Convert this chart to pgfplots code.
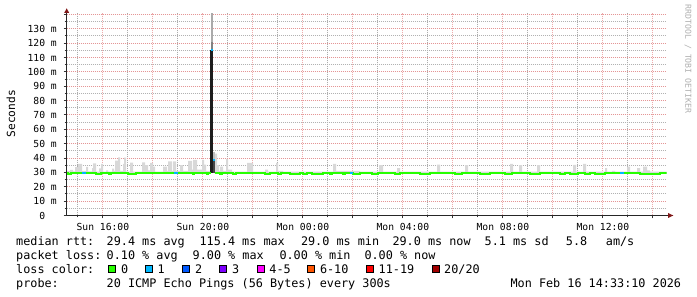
\documentclass[border=0pt]{standalone}
\usepackage{pgfplots}
\pgfplotsset{compat=1.18}
\usepackage{fontspec}
\setmainfont{DejaVu Sans Mono}
\definecolor{lc0}{HTML}{26FF00}
\definecolor{lc1}{HTML}{00B8FF}
\definecolor{lc2}{HTML}{0059FF}
\definecolor{lc3}{HTML}{7E00FF}
\definecolor{lc4}{HTML}{FF00FF}
\definecolor{lc6}{HTML}{FF5500}
\definecolor{lc11}{HTML}{FF0000}
\definecolor{lc20}{HTML}{A10000}
\definecolor{mgridx}{RGB}{238,172,172}
\definecolor{mgridy}{RGB}{228,150,150}
\definecolor{mingridx}{RGB}{172,172,172}
\definecolor{mingridy}{RGB}{178,178,178}
\definecolor{smoke}{RGB}{216,216,216}
\definecolor{arrowc}{RGB}{128,24,24}
\begin{document}
\begin{tikzpicture}[x=1pt,y=1pt]
\useasboundingbox (0,0) rectangle (697,297);
\begin{axis}[
  at={(66.7pt,81.5pt)}, anchor=south west,
  scale only axis, width=600pt, height=202.5pt,
  xmin=14.5528, xmax=38.5528, ymin=0, ymax=141,
  axis line style={draw=none},
  xtick={16,18,...,38},
  xticklabels={Sun 16:00,,Sun 20:00,,Mon 00:00,,Mon 04:00,,Mon 08:00,,Mon 12:00,},
  minor xtick={15,17,...,37},
  ytick={0,10,...,140},
  yticklabels={0\phantom{ m},10 m,20 m,30 m,40 m,50 m,60 m,70 m,80 m,90 m,100 m,110 m,120 m,130 m,},
  minor ytick={5,15,...,135},
  tick pos=left, tick align=outside,
  major tick length=3pt, minor tick length=2pt,
  tick style={black!80, line width=1pt},
  ticklabel style={font=\fontsize{9.7}{11}\selectfont, text=black},
  xticklabel style={anchor=north, inner sep=0pt, yshift=-5pt},
  yticklabel style={anchor=east, inner sep=0pt, xshift=-6.7pt},
]
% grid
\pgfplotsinvokeforeach{15,17,...,37}{\draw[mingridx, dash pattern=on 1pt off 1pt, line width=1pt] (axis cs:#1,0) -- (axis cs:#1,141);}
\pgfplotsinvokeforeach{5,15,...,135}{\draw[mingridy, dash pattern=on 1pt off 1pt, line width=1pt] (axis cs:14.5528,#1) -- (axis cs:38.5528,#1);}
\pgfplotsinvokeforeach{10,20,...,140}{\draw[mgridy, dash pattern=on 1pt off 1pt, line width=1pt] (axis cs:14.5528,#1) -- (axis cs:38.5528,#1);}
\pgfplotsinvokeforeach{16,18,...,38}{\draw[mgridx, dash pattern=on 1pt off 1pt, line width=0.9pt] (axis cs:#1,0) -- (axis cs:#1,141);}
% smoke (light)
\addplot[fill=smoke, draw=none, const plot] coordinates {
(14.553,31) (14.685,31.7) (14.805,30.8) (14.885,33.6) (15.005,35.9) (15.165,31) (15.325,33.8) (15.405,30.8) (15.565,33) (15.605,36.3) (15.725,30.5) (15.845,32.8) (15.925,36) (16.005,30.5) (16.125,31.5) (16.205,30.5) (16.365,32.6) (16.445,31) (16.485,38.2) (16.605,40.5) (16.685,31) (16.805,36) (16.845,40.3) (16.925,30.5) (17.085,36.9) (17.205,30.5) (17.565,37) (17.685,35) (17.805,31.5) (17.885,36.7) (18.005,34) (18.085,30.5) (18.405,34) (18.565,31) (18.605,37.6) (18.765,31) (18.805,37.6) (18.925,31) (19.085,35) (19.205,31) (19.405,38) (19.565,32) (19.605,38.8) (19.765,32) (19.965,38.8) (20.045,35.5) (20.125,31) (20.305,31) (20.305,29) (14.553,29)};
\addplot[fill=smoke, draw=none, const plot] coordinates {
(20.473,43) (20.565,35) (20.645,31) (20.685,34) (20.805,31) (20.925,39.3) (21.005,32) (21.165,30.5) (21.765,36.7) (22.005,30.5) (22.485,32) (22.605,30.5) (22.925,36.7) (23.005,31) (23.205,30.5) (25.205,36) (25.325,31) (26.285,30.5) (27.045,35) (27.205,30.5) (27.765,33) (27.885,30.5) (29.365,35.5) (29.485,30.5) (30.485,35) (30.605,30.5) (32.285,36) (32.405,30.5) (32.645,35) (32.765,30.5) (33.365,35) (33.485,30.5) (34.805,35.2) (34.925,30.5) (35.205,35.9) (35.325,30.5) (36.085,32.9) (36.165,30.5) (36.365,31) (36.485,30.5) (36.965,34) (37.085,30.5) (37.365,33) (37.485,30.5) (37.605,34) (37.765,31.5) (37.885,30.5) (38.553,30.5) (38.553,29) (20.473,29)};
% spike samples
\addplot[fill={rgb,255:red,170;green,170;blue,170}, draw=none] coordinates {(20.305,121) (20.305,141) (20.389,141) (20.389,121)};
\addplot[fill={rgb,255:red,130;green,130;blue,130}, draw=none] coordinates {(20.305,115) (20.305,121) (20.389,121) (20.389,115)};
\addplot[fill={rgb,255:red,30;green,30;blue,30}, draw=none] coordinates {(20.28,29.5) (20.28,115) (20.389,115) (20.389,29.5)};
\addplot[fill={rgb,255:red,190;green,190;blue,190}, draw=none] coordinates {(20.389,38) (20.389,44) (20.473,44) (20.473,38)};
\addplot[fill={rgb,255:red,70;green,70;blue,70}, draw=none] coordinates {(20.389,29.5) (20.389,38) (20.473,38) (20.473,29.5)};
% median line, loss 0
\addplot[lc0, line width=2pt, const plot] coordinates {
(14.553,29.6) (14.605,28.8) (14.725,29.6) (15.725,28.8) (15.913,29.6) (16.245,28.8) (16.325,29.6) (17.005,28.8) (17.325,29.6) (19.605,28.8) (19.645,29.6) (20.165,28.8) (20.205,29.6) (20.305,29.6)};
\addplot[lc0, line width=2pt, const plot] coordinates {
(20.473,29.6) (20.685,28.8) (20.765,29.6) (21.205,28.8) (21.325,29.6) (22.485,28.8) (22.685,29.6) (23.005,28.8) (23.125,29.6) (23.485,28.8) (23.885,29.6) (24.005,28.8) (24.165,29.6) (24.365,28.8) (24.805,29.6) (25.085,28.8) (25.165,29.6) (25.605,28.8) (25.685,29.6) (26.005,28.8) (26.285,29.6) (26.765,28.8) (27.005,29.6) (27.685,28.8) (27.885,29.6) (28.685,28.8) (29.085,29.6) (30.085,28.8) (30.365,29.6) (31.085,28.8) (31.485,29.6) (32.085,28.8) (32.365,29.6) (33.085,28.8) (33.485,29.6) (34.285,28.8) (34.485,29.6) (34.685,28.8) (35.005,29.6) (35.285,28.8) (35.485,29.6) (35.685,28.8) (36.085,29.6) (37.485,28.8) (38.285,29.6) (38.553,29.6)};
% median line, loss 1
\addplot[lc1, line width=2pt] coordinates {(15.165,29.6) (15.325,29.6)};
\addplot[lc1, line width=2pt] coordinates {(18.845,29.6) (19.005,29.6)};
\addplot[lc1, line width=2pt] coordinates {(25.885,29.6) (26.005,29.6)};
\addplot[lc1, line width=2pt] coordinates {(36.685,29.6) (36.845,29.6)};
\addplot[lc1, line width=2pt] coordinates {(20.305,115.4) (20.389,115.4)};
\addplot[lc1, line width=2pt] coordinates {(20.389,38.7) (20.473,38.7)};
\end{axis}
% axes with arrows
\draw[black!85, line width=1pt] (66.7,81.5) -- (668,81.5);
\draw[black!85, line width=1pt] (66.7,81.5) -- (66.7,284);
\fill[arrowc] (673.3,81.5) -- (668,84) -- (668,79) -- cycle;
\fill[arrowc] (66.7,288.7) -- (64.2,284) -- (69.2,284) -- cycle;
% labels
\node[rotate=90, font=\fontsize{11.2}{13}\selectfont] at (11,183.3) {Seconds};
\node[rotate=-90, font=\fontsize{8.2}{10}\selectfont, text={rgb,255:red,175;green,175;blue,175}] at (688,238) {RRDTOOL / TOBI OETIKER};
% legend
\begin{scope}[every node/.style={anchor=base west, inner sep=0pt, font=\fontsize{11.8}{14}\selectfont}]
\node at (16,51) {median rtt:};
\node at (106.5,51) {29.4 ms avg};
\node at (199.4,51) {115.4 ms max};
\node at (300.8,51) {29.0 ms min};
\node at (392.3,51) {29.0 ms now};
\node at (484.5,51) {5.1 ms sd};
\node at (565.7,51) {5.8};
\node at (605.7,51) {am/s};
\node at (16,37) {packet loss:};
\node at (106.5,37) {0.10 \% avg};
\node at (192.5,37) {9.00 \% max};
\node at (279.3,37) {0.00 \% min};
\node at (364.3,37) {0.00 \% now};
\node at (16,23) {loss color:};
\node at (16,9) {probe:};
\node at (106.5,9) {20 ICMP Echo Pings (56 Bytes) every 300s};
\node[anchor=base east] at (681.3,9) {Mon Feb 16 14:33:10 2026};
\foreach \bx/\col/\lab in {108.3/lc0/0, 145/lc1/1, 182.3/lc2/2, 219.3/lc3/3, 256.7/lc4/4-5, 307.3/lc6/6-10, 366/lc11/11-19, 431.5/lc20/20\slash 20}{
  \draw[fill=\col, line width=1pt] (\bx+0.5,24.2) rectangle (\bx+7.5,31.2);
  \node at (\bx+12.5,23) {\lab};
}
\end{scope}
\end{tikzpicture}
\end{document}
